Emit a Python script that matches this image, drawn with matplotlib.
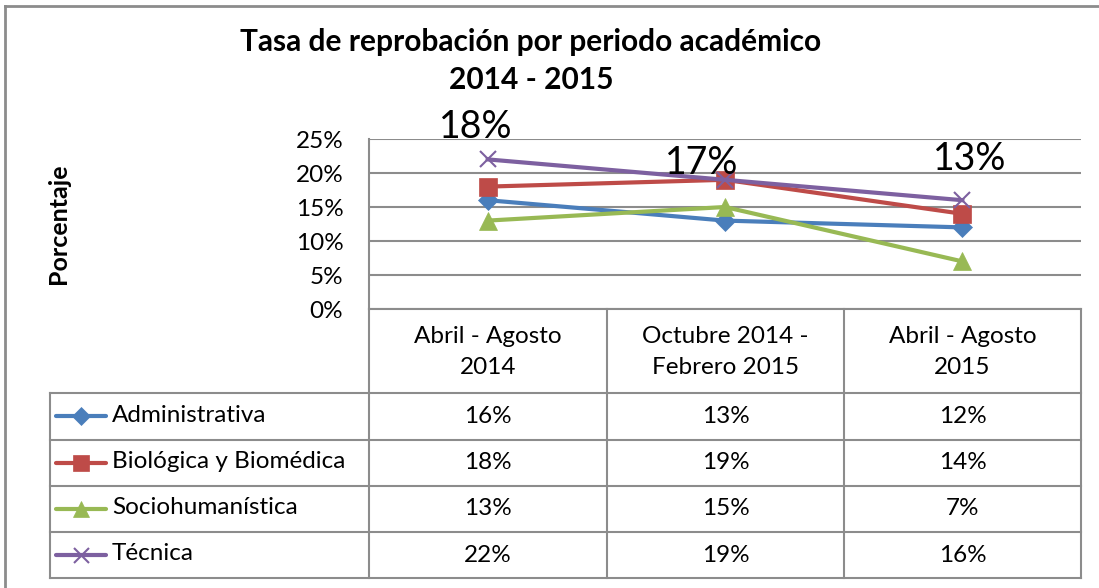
import matplotlib.pyplot as plt
import numpy as np

plt.rcParams['font.family'] = ['Lato', 'DejaVu Sans']

periodos = ['Abril - Agosto\n2014', 'Octubre 2014 -\nFebrero 2015', 'Abril - Agosto\n2015']
areas = ['Administrativa', 'Biológica y Biomédica', 'Sociohumanística', 'Técnica']
administrativa = [16, 13, 12]
biologica = [18, 19, 14]
sociohumanistica = [13, 15, 7]
tecnica = [22, 19, 16]
# etiquetas sueltas que aparecen sobre el grafico
etiquetas = ['18%', '17%', '13%']
etiquetas_y = [26.8, 21.4, 22.1]
etiquetas_dx = [-0.05, -0.1, 0.03]

series = [administrativa, biologica, sociohumanistica, tecnica]
colores = ['#4A7EBB', '#BE4B48', '#98B954', '#7D60A0']
marcadores = ['D', 's', '^', 'x']
tam_marcador = [10, 13, 13, 12]
gris = '#8C8C8C'
fs = 17.5

W, H = 1099, 588
fig = plt.figure(figsize=(W / 100, H / 100), dpi=100)

def px(x0, y0, x1, y1):
    # rect in figure fraction from pixel box
    return [x0 / W, 1 - y1 / H, (x1 - x0) / W, (y1 - y0) / H]

# marco exterior
fig.add_artist(plt.Line2D([5 / W, 1], [1 - 6 / H, 1 - 6 / H], color=gris, lw=2))
fig.add_artist(plt.Line2D([5 / W, 5 / W], [0, 1 - 6 / H], color=gris, lw=2))

# grafico de lineas
ax = fig.add_axes(px(369, 139, 1081, 309))
x = np.arange(len(periodos)) + 0.5
for s, c, m, ms in zip(series, colores, marcadores, tam_marcador):
    ax.plot(x, s, color=c, lw=3, marker=m, ms=ms, mew=1.5 if m == 'x' else 0.5,
            mec=c, zorder=3, clip_on=False)
for xi, t, ty, dx in zip(x, etiquetas, etiquetas_y, etiquetas_dx):
    ax.text(xi + dx, ty, t, ha='center', va='center', fontsize=27, zorder=5,
            clip_on=False)
ax.set_xlim(0, len(periodos))
ax.set_ylim(0, 25)
ax.set_yticks(np.arange(0, 26, 5))
ax.set_yticklabels([f'{v}%' for v in range(0, 26, 5)], fontsize=fs)
ax.set_xticks([])
ax.grid(axis='y', color=gris, lw=1.5)
for sp in ['top', 'right', 'bottom']:
    ax.spines[sp].set_visible(False)
ax.spines['left'].set_color(gris)
ax.spines['left'].set_linewidth(1.5)
ax.tick_params(axis='y', length=0, pad=18.5)
ax.set_axisbelow(True)

fig.text(531 / W, 1 - 42 / H, 'Tasa de reprobación por periodo académico',
         ha='center', va='center', fontsize=21.5, fontweight='bold')
fig.text(531 / W, 1 - 80 / H, '2014 - 2015', ha='center', va='center',
         fontsize=21.5, fontweight='bold')
fig.text(58 / W, 1 - 224 / H, 'Porcentaje', ha='center', va='center',
         rotation=90, fontsize=18, fontweight='bold')

# tabla de datos
tx = fig.add_axes(px(0, 0, W, H))
tx.set_xlim(0, W)
tx.set_ylim(H, 0)
tx.axis('off')
col_x = [369, 607, 844, 1081]
fila_y = [309, 393, 439.5, 485.5, 532, 578]
lw_t = 1.5
# encabezado
tx.plot([369, 1081], [309, 309], color=gris, lw=lw_t)
for cx in col_x:
    tx.plot([cx, cx], [309, 578], color=gris, lw=lw_t)
for fy in fila_y[1:]:
    tx.plot([50, 1081], [fy, fy], color=gris, lw=lw_t)
tx.plot([50, 50], [393, 578], color=gris, lw=lw_t)
for j, p in enumerate(periodos):
    tx.text((col_x[j] + col_x[j + 1]) / 2, (fila_y[0] + fila_y[1]) / 2 + 1, p,
            ha='center', va='center', fontsize=fs, linespacing=1.6)
for i, (a, s, c, m, ms) in enumerate(zip(areas, series, colores, marcadores, tam_marcador)):
    cy = (fila_y[i + 1] + fila_y[i + 2]) / 2
    tx.plot([56, 106], [cy, cy], color=c, lw=3, solid_capstyle='round')
    tx.plot([81], [cy], color=c, marker=m, ms=ms * 0.9, mec=c,
            mew=1.5 if m == 'x' else 0.5)
    tx.text(112, cy - 1, a, ha='left', va='center', fontsize=fs)
    for j, v in enumerate(s):
        tx.text((col_x[j] + col_x[j + 1]) / 2, cy, f'{v}%', ha='center',
                va='center', fontsize=fs)

fig.savefig('out.png', dpi=100)
